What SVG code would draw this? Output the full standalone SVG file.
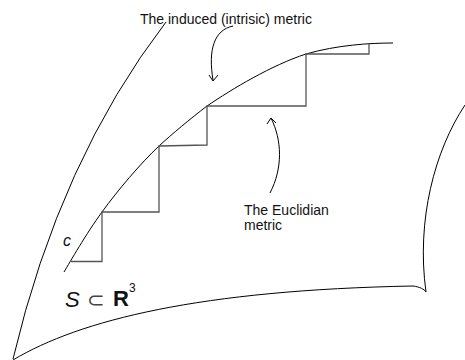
<svg xmlns="http://www.w3.org/2000/svg" width="465" height="360" viewBox="0 0 465 360">
<style>
.curve{fill:none;stroke:#000;stroke-width:1}
.stair{fill:none;stroke:#555;stroke-width:1.3}
.lbl{font-family:"Liberation Sans",Arial,sans-serif;font-size:14px;fill:#111}
</style>
<rect width="465" height="360" fill="#fff"/>
<g id="surface">
<path class="curve" d="M13,359 Q60,160 166,22"/>
<path class="curve" d="M13,360 C80,320 200,290 413,286 C420,287 424,289 426,292"/>
<path class="curve" d="M465,105 C435,150 416,220 426,292"/>
</g>
<g id="curve-c">
<path class="curve" d="M64,272 C70,262 86,234 102,212 C118,190 140,164 159,146 C172,134 190,119 207,106 C232,89 272,65 306,54 C337,45 370,43 393,43"/>
</g>
<g id="staircase">
<path class="stair" d="M71,261.5 H102 V212 H159 V146 L207,145 V106 H306 V54 H369 V44"/>
</g>
<g id="connectors">
<path class="curve" d="M233,26 C214,30 208,50 213,80"/>
<path class="curve" d="M209,75 L213,81 L218,75"/>
<path class="curve" d="M270,193 C283,168 282,140 271,118"/>
<path class="curve" d="M267,124 L271,118 L276,123"/>
</g>
<g id="labels">
<text class="lbl" x="140" y="24">The induced (intrisic) metric</text>
<text class="lbl" x="244" y="215">The Euclidian</text>
<text class="lbl" x="244" y="230">metric</text>
<text x="63" y="246" font-family="Liberation Sans,Arial,sans-serif" font-size="16" font-style="italic" fill="#111">c</text>
<text x="65" y="307" font-family="Liberation Sans,Arial,sans-serif" font-size="22" font-style="italic" fill="#111">S</text>
<text x="87" y="307" font-family="DejaVu Sans,sans-serif" font-size="21" fill="#444">⊂</text>
<text x="113" y="306" font-family="Liberation Sans,Arial,sans-serif" font-size="22" font-weight="bold" fill="#111">R</text>
<text x="129" y="292" font-family="Liberation Sans,Arial,sans-serif" font-size="12" fill="#111">3</text>
</g>
</svg>
